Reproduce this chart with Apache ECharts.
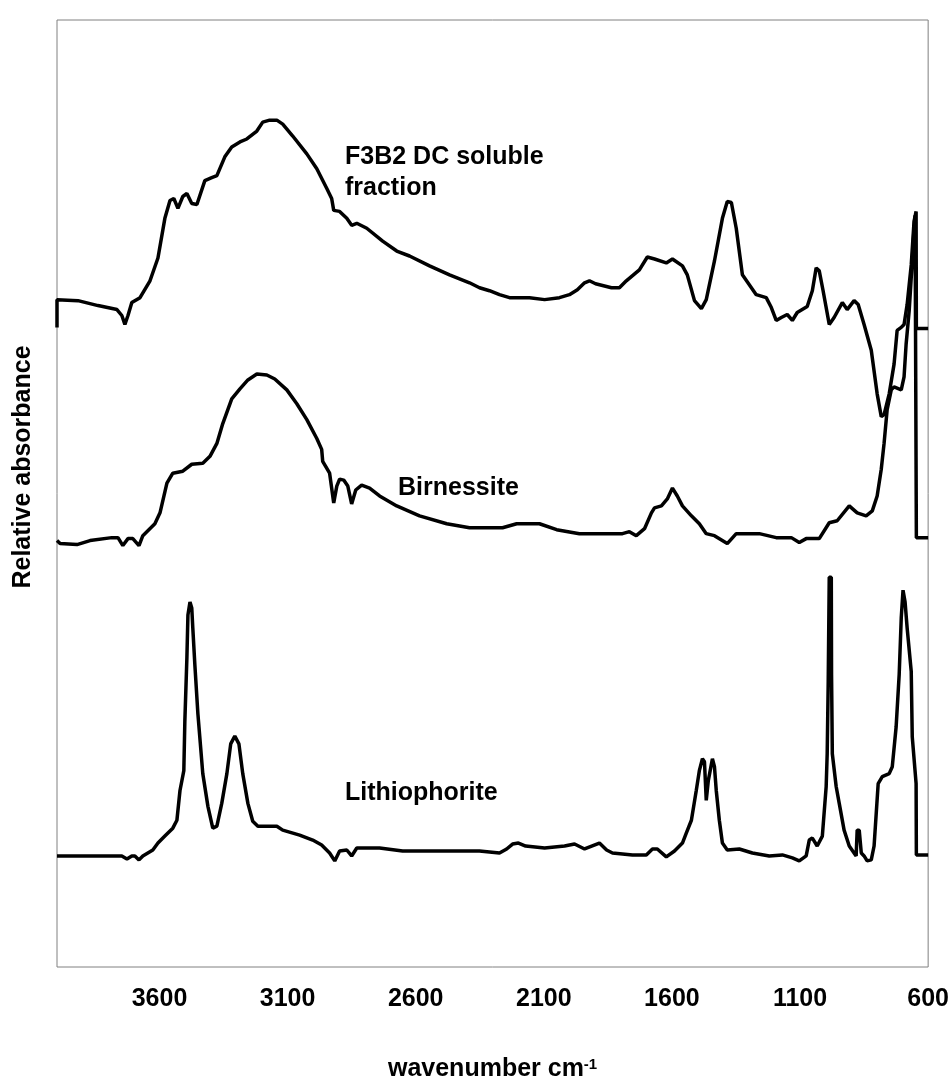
<!DOCTYPE html>
<html>
<head>
<meta charset="utf-8">
<title>IR spectra</title>
<script src="https://cdn.jsdelivr.net/npm/echarts@6/dist/echarts.min.js"></script>
<style>
  html, body { margin: 0; padding: 0; background: #ffffff; }
  #chart { width: 952px; height: 1087px; }
</style>
</head>
<body>
<div id="chart"></div>
<script>
// Spectra: wavenumber (cm-1) and stacked relative absorbance (arbitrary units)
const f3b2Wavenumber = [4000,4000,3918,3840,3766,3747,3735,3723,3708,3676,3637,3606,3579,3559,3544,3528,3509,3493,3474,3454,3423,3396,3376,3345,3318,3286,3259,3220,3197,3170,3142,3119,3080,3025,2986,2947,2928,2920,2897,2869,2850,2830,2791,2729,2674,2624,2546,2468,2390,2351,2312,2273,2234,2156,2097,2039,2000,1969,1941,1922,1898,1867,1836,1805,1778,1727,1696,1668,1622,1598,1559,1540,1512,1485,1466,1434,1403,1384,1368,1349,1325,1271,1232,1212,1193,1173,1150,1130,1111,1072,1052,1037,1025,1010,986,967,935,916,889,873,850,822,799,783,772,752,733,721,705,694,682,666,655,647,646,600];
const f3b2Absorbance = [69.2,72.0,71.9,71.4,71.0,70.4,69.5,70.4,71.7,72.2,73.9,76.2,80.2,82.0,82.2,81.2,82.4,82.7,81.7,81.6,84.0,84.3,84.5,86.4,87.4,87.9,88.2,89.0,89.9,90.1,90.1,89.7,88.5,86.7,85.2,83.2,82.2,81.0,80.9,80.2,79.5,79.7,79.2,77.9,76.9,76.4,75.4,74.5,73.7,73.2,72.9,72.5,72.2,72.2,72.0,72.2,72.5,73.0,73.7,73.9,73.6,73.4,73.2,73.2,73.9,75.0,76.3,76.1,75.7,76.1,75.4,74.5,71.9,71.1,72.0,75.9,80.2,81.9,81.8,79.2,74.5,72.5,72.2,71.2,69.9,70.2,70.5,69.9,70.7,71.3,72.9,75.2,74.9,72.9,69.5,70.2,71.7,71.0,71.9,71.5,69.5,66.9,62.5,60.2,60.4,62.5,65.5,68.9,69.2,69.5,71.5,75.5,79.9,80.9,69.1,69.1];

const birnessiteWavenumber = [4000,3988,3922,3871,3786,3762,3743,3723,3704,3680,3665,3618,3598,3571,3548,3509,3474,3431,3403,3376,3353,3318,3286,3255,3220,3181,3150,3103,3064,3025,2986,2967,2963,2936,2920,2908,2897,2881,2865,2850,2834,2811,2780,2741,2674,2585,2479,2390,2261,2206,2117,2050,1961,1793,1766,1739,1707,1680,1668,1641,1618,1598,1579,1559,1524,1493,1466,1434,1384,1349,1259,1193,1134,1103,1076,1025,986,955,908,877,842,818,799,783,772,760,744,733,705,694,686,674,662,655,651,646,600];
const birnessiteAbsorbance = [47.7,47.4,47.3,47.7,48.0,48.0,47.2,47.9,47.9,47.2,48.2,49.4,50.5,53.5,54.5,54.7,55.4,55.5,56.2,57.5,59.5,62.0,63.0,63.9,64.5,64.4,64.0,62.9,61.5,59.9,58.0,56.9,55.7,54.5,51.5,53.2,53.9,53.8,53.2,51.4,52.8,53.3,53.0,52.2,51.2,50.2,49.4,49.0,49.0,49.4,49.4,48.8,48.4,48.4,48.6,48.2,48.9,50.5,51.0,51.2,51.9,53.0,52.2,51.2,50.2,49.4,48.4,48.2,47.4,48.4,48.4,48.0,48.0,47.5,47.9,47.9,49.5,49.7,51.2,50.5,50.2,50.7,52.2,54.9,57.5,60.9,62.9,63.2,62.9,64.2,67.5,70.9,75.9,79.2,80.5,48.0,48.0];

const lithiophoriteWavenumber = [4000,3747,3727,3708,3696,3680,3665,3626,3606,3579,3548,3532,3520,3505,3501,3493,3489,3481,3474,3470,3462,3450,3431,3411,3392,3376,3357,3337,3322,3306,3290,3275,3255,3236,3216,3142,3119,3053,3002,2967,2936,2916,2897,2869,2850,2830,2741,2651,2507,2351,2273,2245,2222,2199,2171,2097,2019,1980,1941,1883,1855,1832,1754,1700,1676,1657,1622,1590,1559,1544,1524,1505,1493,1481,1473,1466,1458,1442,1434,1427,1415,1403,1384,1337,1286,1220,1169,1130,1103,1076,1064,1052,1033,1013,998,994,990,986,978,977,974,959,947,928,908,881,877,869,861,850,838,822,811,795,779,752,740,725,713,705,698,690,682,666,662,647,646,600];
const lithiophoriteAbsorbance = [15.9,15.9,15.6,15.9,15.9,15.5,15.9,16.5,17.2,17.9,18.7,19.5,22.5,24.5,29.5,35.9,40.2,41.5,40.9,38.9,35.2,30.2,24.2,20.9,18.7,18.9,21.2,24.2,27.2,28.0,27.2,24.2,21.2,19.4,18.9,18.9,18.5,18.0,17.5,17.0,16.2,15.4,16.4,16.5,15.9,16.7,16.7,16.4,16.4,16.4,16.2,16.6,17.1,17.2,16.9,16.7,16.9,17.1,16.6,17.2,16.5,16.2,16.0,16.0,16.6,16.6,15.8,16.4,17.2,18.2,19.5,22.5,24.5,25.7,25.4,21.5,23.5,25.7,24.9,22.5,19.5,17.2,16.5,16.6,16.2,15.9,16.0,15.7,15.4,15.9,17.5,17.7,16.9,17.9,22.9,26.2,33.5,44.0,44.0,34.2,26.2,22.9,21.2,18.5,16.9,15.9,18.5,18.5,16.2,15.9,15.4,15.5,16.9,23.2,23.9,24.2,24.9,28.9,34.2,39.9,42.7,41.5,38.9,34.5,27.9,23.2,16.0,16.0];

const tickValues = [3600, 3100, 2600, 2100, 1600, 1100, 600];

function pairs(xs, ys) {
  return xs.map((x, i) => [x, ys[i]]);
}

const FONT = '"Liberation Sans", Arial, sans-serif';
const chart = echarts.init(document.getElementById('chart'), null, { renderer: 'canvas' });

const lineStyle = { color: '#000000', width: 3.5 };

function spectrum(name, xs, ys) {
  return {
    name: name,
    type: 'line',
    data: pairs(xs, ys),
    showSymbol: false,
    symbol: 'none',
    smooth: false,
    lineStyle: lineStyle,
    clip: false,
    animation: false
  };
}

chart.setOption({
  backgroundColor: '#ffffff',
  animation: false,
  grid: {
    left: 57, right: 22, top: 20, bottom: 112,
    show: true, borderColor: '#808080', borderWidth: 1, backgroundColor: 'transparent'
  },
  xAxis: {
    type: 'value',
    inverse: true,
    min: 600,
    max: 4000,
    interval: 500,
    axisLine: { show: false },
    axisTick: { show: false },
    splitLine: { show: false },
    axisLabel: {
      showMaxLabel: false,
      margin: 20,
      color: '#000000',
      fontFamily: FONT,
      fontWeight: 'bold',
      fontSize: 25,
      formatter: v => tickValues.indexOf(v) >= 0 ? String(v) : ''
    },
    name: 'wavenumber cm{sup|-1}',
    nameLocation: 'middle',
    nameGap: 90,
    nameTextStyle: {
      color: '#000000',
      fontFamily: FONT,
      fontWeight: 'bold',
      fontSize: 25,
      rich: {
        sup: { fontFamily: FONT, fontWeight: 'bold', fontSize: 15, color: '#000000', verticalAlign: 'top', padding: [0, 0, 8, 0] }
      }
    }
  },
  yAxis: {
    type: 'value',
    min: 4.7,
    max: 100.2,
    axisLine: { show: false },
    axisTick: { show: false },
    axisLabel: { show: false },
    splitLine: { show: false }
  },
  graphic: [
    {
      type: 'text', x: 23, y: 467, rotation: Math.PI / 2,
      style: { text: 'Relative absorbance', fill: '#000000', font: 'bold 25px ' + FONT, align: 'center', verticalAlign: 'middle' }
    },
    {
      type: 'text', x: 345, y: 142,
      style: { text: 'F3B2 DC soluble\nfraction', fill: '#000000', font: 'bold 25px ' + FONT, lineHeight: 31, align: 'left', verticalAlign: 'top' }
    },
    {
      type: 'text', x: 398, y: 488,
      style: { text: 'Birnessite', fill: '#000000', font: 'bold 25px ' + FONT, align: 'left', verticalAlign: 'middle' }
    },
    {
      type: 'text', x: 345, y: 793,
      style: { text: 'Lithiophorite', fill: '#000000', font: 'bold 25px ' + FONT, align: 'left', verticalAlign: 'middle' }
    }
  ],
  series: [
    spectrum('F3B2 DC soluble fraction', f3b2Wavenumber, f3b2Absorbance),
    spectrum('Birnessite', birnessiteWavenumber, birnessiteAbsorbance),
    spectrum('Lithiophorite', lithiophoriteWavenumber, lithiophoriteAbsorbance)
  ]
});
</script>
</body>
</html>
